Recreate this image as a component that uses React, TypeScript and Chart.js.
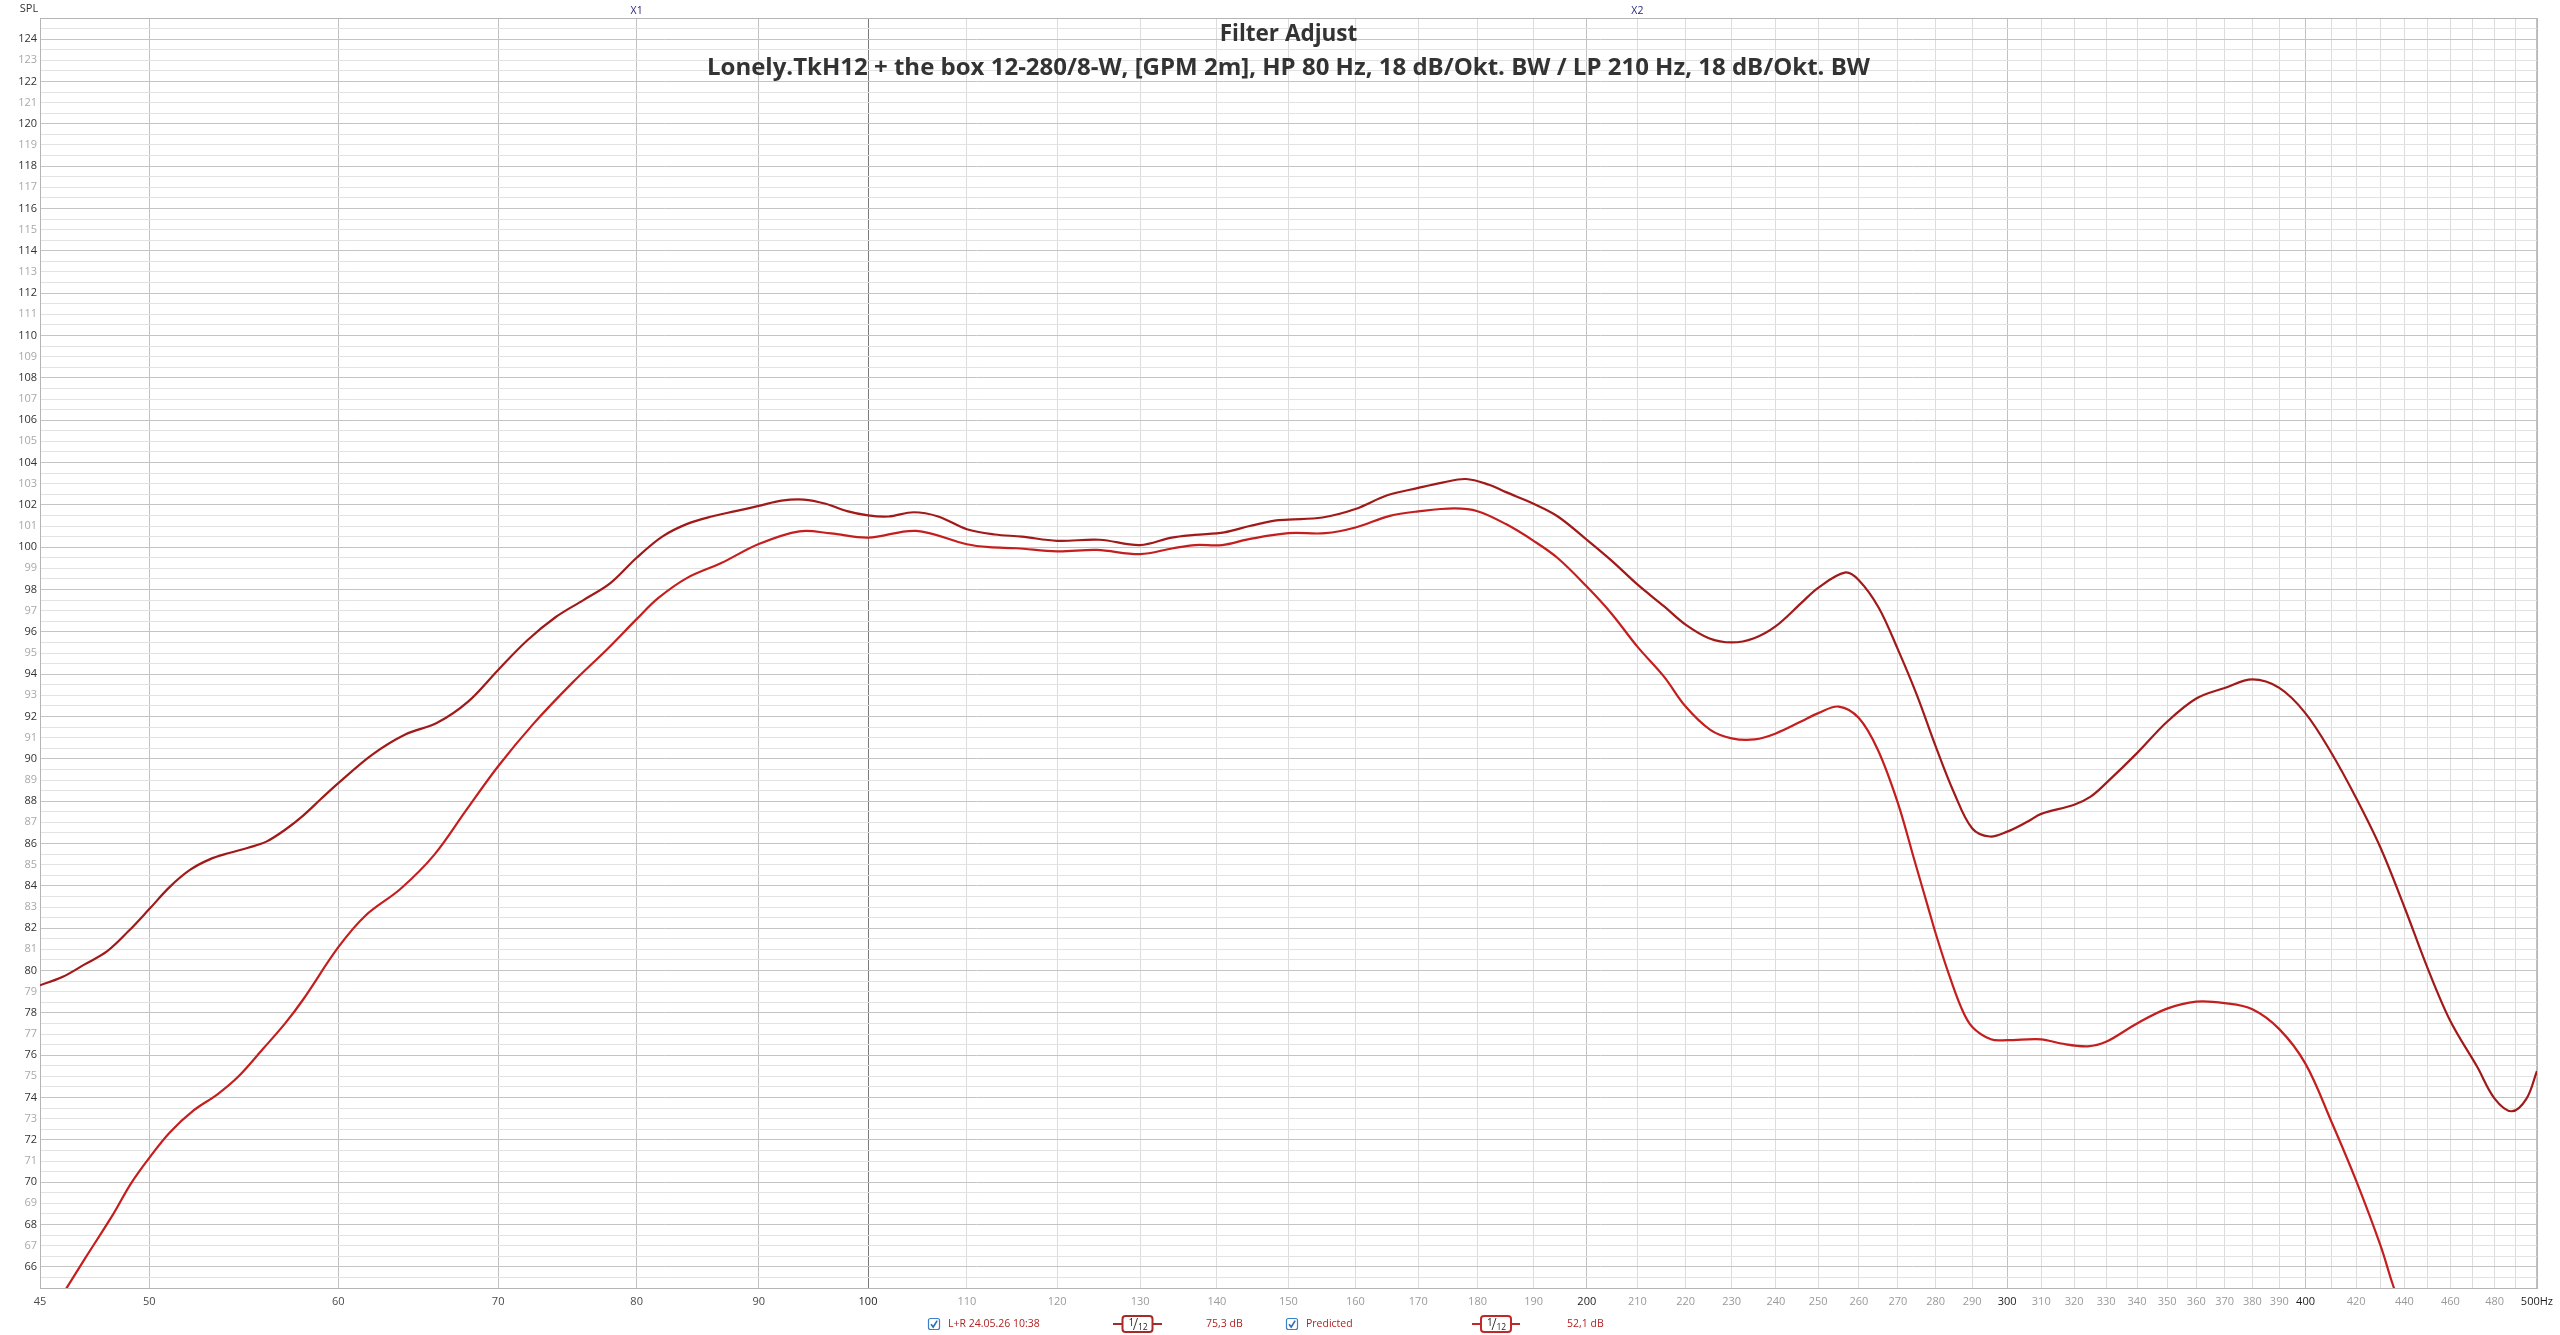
import React, { useEffect, useRef } from "react";
import { Chart, registerables } from "chart.js";

Chart.register(...registerables);

// ---------- data ----------
const FREQ_LR = [45, 46, 47, 48, 49, 50, 51, 52, 53, 54, 55, 56, 57, 58, 59, 60, 62, 64, 66, 68, 70, 72, 74, 76, 78, 80, 82, 84, 86, 88, 90, 92, 94, 96, 98, 100, 102, 104.5, 107, 110, 113, 116, 120, 125, 130, 134, 137, 141, 144.5, 148, 150, 155, 160, 165, 170, 174, 178, 182, 185, 190, 194.5, 200, 205, 210, 215.5, 220, 225, 230, 235, 240, 246, 250, 256.5, 260, 265, 270, 275, 280, 285, 290, 295, 300, 306, 310, 320, 325, 330, 340, 350, 360, 370, 380, 390, 400, 410, 420, 430, 440, 450, 460, 472, 480, 488, 495, 500];
const SPL_LR = [79.3, 79.7, 80.3, 80.9, 81.85, 82.9, 83.95, 84.75, 85.25, 85.55, 85.8, 86.1, 86.65, 87.32, 88.1, 88.85, 90.2, 91.15, 91.7, 92.7, 94.2, 95.6, 96.7, 97.5, 98.3, 99.5, 100.5, 101.1, 101.45, 101.7, 101.95, 102.2, 102.25, 102.05, 101.7, 101.5, 101.45, 101.65, 101.45, 100.85, 100.6, 100.5, 100.3, 100.35, 100.1, 100.45, 100.58, 100.7, 101.0, 101.25, 101.3, 101.4, 101.8, 102.45, 102.8, 103.05, 103.22, 102.95, 102.6, 102.05, 101.45, 100.35, 99.33, 98.24, 97.2, 96.34, 95.7, 95.5, 95.7, 96.27, 97.37, 98.08, 98.8, 98.44, 97.15, 95.16, 93.0, 90.59, 88.4, 86.72, 86.33, 86.56, 87.04, 87.4, 87.83, 88.2, 88.85, 90.27, 91.75, 92.85, 93.35, 93.75, 93.35, 92.15, 90.3, 88.15, 85.8, 83.0, 80.1, 77.6, 75.45, 73.95, 73.35, 73.95, 75.25];

const FREQ_PRED = [45, 46.2, 47, 48.3, 49.1, 50, 51, 52.2, 53.4, 54.5, 55.8, 57, 58, 60, 61.6, 63.7, 65.8, 67.9, 70, 72.4, 75.2, 77.8, 80, 81.7, 84, 86.8, 90, 93.6, 96.5, 100, 104.75, 110, 112.4, 115.4, 120, 124.7, 130, 134.2, 137.1, 140.7, 144.4, 150, 155.4, 160, 165.4, 170, 176, 180, 185, 190, 194.4, 200, 204.8, 210, 215.5, 220, 225.3, 230, 235.2, 240, 245.9, 250, 255, 260, 264.8, 270, 274.3, 277.9, 280, 283.2, 286.9, 290, 295.3, 300, 310, 316, 324.2, 330, 340, 350, 360, 370, 380, 390, 400, 410, 420, 430, 435, 440];
const SPL_PRED = [63.0, 65.05, 66.4, 68.5, 69.9, 71.15, 72.35, 73.4, 74.15, 75.0, 76.3, 77.5, 78.63, 81.1, 82.6, 83.85, 85.45, 87.6, 89.65, 91.64, 93.6, 95.2, 96.6, 97.6, 98.55, 99.25, 100.15, 100.75, 100.65, 100.45, 100.77, 100.14, 100.0, 99.95, 99.8, 99.87, 99.67, 99.95, 100.1, 100.1, 100.38, 100.66, 100.66, 100.93, 101.48, 101.69, 101.83, 101.7, 101.09, 100.3, 99.5, 98.14, 96.87, 95.3, 93.87, 92.47, 91.37, 90.97, 90.92, 91.2, 91.76, 92.16, 92.47, 91.93, 90.43, 87.9, 85.22, 83.02, 81.75, 80.02, 78.28, 77.34, 76.75, 76.71, 76.75, 76.55, 76.42, 76.63, 77.5, 78.2, 78.53, 78.46, 78.17, 77.23, 75.59, 72.89, 70.07, 67.0, 65.2, 63.6];

const X_TICK_VALUES = [45, 50, 60, 70, 80, 90, 100, 110, 120, 130, 140, 150, 160, 170, 180, 190, 200, 210, 220, 230, 240, 250, 260, 270, 280, 290, 300, 310, 320, 330, 340, 350, 360, 370, 380, 390, 400, 410, 420, 430, 440, 450, 460, 470, 480, 490, 500];
const X_TICK_LABELS = ["45", "50", "60", "70", "80", "90", "100", "110", "120", "130", "140", "150", "160", "170", "180", "190", "200", "210", "220", "230", "240", "250", "260", "270", "280", "290", "300", "310", "320", "330", "340", "350", "360", "370", "380", "390", "400", "", "420", "", "440", "", "460", "", "480", "", "500Hz"];
const X_STRONG = [100, 200, 300, 400, 500];
const X_MEDIUM = [45, 50, 60, 70, 80, 90];

const Y_MIN = 65;
const Y_MAX = 125;
const Y_STEP = 0.5;

const TITLE = "Filter Adjust";
const SUBTITLE = "Lonely.TkH12 + the box 12-280/8-W, [GPM 2m], HP 80 Hz, 18 dB/Okt. BW / LP 210 Hz, 18 dB/Okt. BW";
const CURSORS = [
  { label: "X1", freq: 80 },
  { label: "X2", freq: 210 },
];
const LEGEND_NAMES = ["L+R 24.05.26 10:38", "Predicted"];
const LEGEND_LEVELS = ["75,3 dB", "52,1 dB"];
const LINE_COLORS = ["#a11a1a", "#c41e1e"];

const UI_FONT = '"Open Sans", "Noto Sans", sans-serif';

function toPoints(xs: number[], ys: number[]) {
  return xs.map((x, i) => ({ x, y: ys[i] }));
}

function drawCheckbox(ctx: CanvasRenderingContext2D, cx: number, cy: number) {
  ctx.save();
  ctx.fillStyle = "#ffffff";
  ctx.strokeStyle = "#3a7fc8";
  ctx.lineWidth = 1.2;
  ctx.beginPath();
  (ctx as any).roundRect(cx - 5.5, cy - 5.5, 11, 11, 2);
  ctx.fill();
  ctx.stroke();
  ctx.strokeStyle = "#2b6fb8";
  ctx.lineWidth = 1.6;
  ctx.beginPath();
  ctx.moveTo(cx - 3, cy + 0.2);
  ctx.lineTo(cx - 0.8, cy + 3);
  ctx.lineTo(cx + 3.2, cy - 3.4);
  ctx.stroke();
  ctx.restore();
}

function drawSmoothIcon(ctx: CanvasRenderingContext2D, x1: number, x2: number, cy: number, color: string) {
  const cx = (x1 + x2) / 2;
  ctx.save();
  ctx.strokeStyle = color;
  ctx.lineWidth = 2;
  ctx.beginPath();
  ctx.moveTo(x1, cy);
  ctx.lineTo(x2, cy);
  ctx.stroke();
  ctx.fillStyle = "#ffffff";
  ctx.beginPath();
  (ctx as any).roundRect(cx - 15, cy - 8, 30, 16, 3);
  ctx.fill();
  ctx.stroke();
  ctx.fillStyle = "#222222";
  ctx.textBaseline = "alphabetic";
  ctx.textAlign = "left";
  ctx.font = `10px ${UI_FONT}`;
  ctx.fillText("1", cx - 9, cy + 2);
  ctx.strokeStyle = "#222222";
  ctx.lineWidth = 0.9;
  ctx.beginPath();
  ctx.moveTo(cx - 4, cy + 6);
  ctx.lineTo(cx, cy - 6);
  ctx.stroke();
  ctx.font = `8.5px ${UI_FONT}`;
  ctx.fillText("12", cx + 0.5, cy + 6);
  ctx.restore();
}

const overlayPlugin = {
  id: "rewOverlay",
  beforeDatasetsDraw(chart: any) {
    const { ctx, chartArea } = chart;
    ctx.save();
    ctx.strokeStyle = "#b5b5b5";
    ctx.lineWidth = 1;
    ctx.strokeRect(chartArea.left + 0.5, chartArea.top + 0.5, chartArea.right - chartArea.left, chartArea.bottom - chartArea.top);
    ctx.restore();
  },
  afterDraw(chart: any) {
    const { ctx, chartArea } = chart;
    const xs = chart.scales.x;
    const cx = (chartArea.left + chartArea.right) / 2;
    ctx.save();
    // titles
    ctx.fillStyle = "#333333";
    ctx.textAlign = "center";
    ctx.textBaseline = "middle";
    ctx.font = `bold 22.5px ${UI_FONT}`;
    ctx.fillText(TITLE, cx, 35);
    ctx.font = `bold 24px ${UI_FONT}`;
    ctx.fillText(SUBTITLE, cx, 68);
    // axis name
    ctx.font = `11px ${UI_FONT}`;
    ctx.fillStyle = "#333333";
    ctx.fillText("SPL", 29, 9);
    // cursors
    ctx.fillStyle = "#26267a";
    ctx.font = `10.5px ${UI_FONT}`;
    CURSORS.forEach((c) => {
      ctx.fillText(c.label, xs.getPixelForValue(c.freq), 11);
    });
    // legend row
    const ly = 1324;
    const red = "#b22222";
    drawCheckbox(ctx, 934, ly);
    drawCheckbox(ctx, 1292, ly);
    ctx.textAlign = "left";
    ctx.fillStyle = red;
    ctx.font = `10.5px ${UI_FONT}`;
    ctx.fillText(LEGEND_NAMES[0], 948, ly);
    ctx.fillText(LEGEND_LEVELS[0], 1206, ly);
    ctx.fillText(LEGEND_NAMES[1], 1306, ly);
    ctx.fillText(LEGEND_LEVELS[1], 1567, ly);
    drawSmoothIcon(ctx, 1113, 1162, ly, "#a52a2a");
    drawSmoothIcon(ctx, 1472, 1520, ly, "#c0282a");
    ctx.restore();
  },
};

export default function App() {
  const canvasRef = useRef<HTMLCanvasElement | null>(null);

  useEffect(() => {
    const canvas = canvasRef.current;
    if (!canvas) return;
    const yTicks: number[] = [];
    for (let v = Y_MIN; v <= Y_MAX + 1e-9; v += Y_STEP) yTicks.push(Math.round(v * 10) / 10);

    const chart = new Chart(canvas, {
      type: "line",
      data: {
        datasets: [
          {
            label: LEGEND_NAMES[0],
            data: toPoints(FREQ_LR, SPL_LR),
            borderColor: LINE_COLORS[0],
            borderWidth: 2.2,
            pointRadius: 0,
            tension: 0.35,
            fill: false,
            clip: 0,
          },
          {
            label: LEGEND_NAMES[1],
            data: toPoints(FREQ_PRED, SPL_PRED),
            borderColor: LINE_COLORS[1],
            borderWidth: 2.2,
            pointRadius: 0,
            tension: 0.35,
            fill: false,
            clip: 0,
          },
        ],
      },
      options: {
        animation: false,
        responsive: false,
        devicePixelRatio: 1,
        layout: { padding: { top: 18, right: 19, left: 0, bottom: 0 } },
        plugins: {
          legend: { display: false },
          title: { display: false },
          tooltip: { enabled: false },
        },
        scales: {
          x: {
            type: "logarithmic",
            min: 45,
            max: 500,
            border: { display: false },
            afterFit: (scale: any) => {
              scale.height = 47;
            },
            afterBuildTicks: (scale: any) => {
              scale.ticks = X_TICK_VALUES.map((v) => ({ value: v }));
            },
            grid: {
              drawTicks: false,
              lineWidth: 1,
              color: (c: any) => {
                const v = c.tick ? c.tick.value : 0;
                if (v === 100) return "#7a7a7a";
                if (X_STRONG.includes(v) || X_MEDIUM.includes(v)) return "#c2c2c2";
                return "#dcdcdc";
              },
            },
            ticks: {
              autoSkip: false,
              maxRotation: 0,
              minRotation: 0,
              padding: 7,
              font: { family: UI_FONT, size: 11 },
              color: (c: any) => {
                const v = c.tick ? c.tick.value : 0;
                if (X_STRONG.includes(v)) return "#1e1e1e";
                if (X_MEDIUM.includes(v)) return "#4a4a4a";
                return "#9a9a9a";
              },
              callback: (value: any) => {
                const i = X_TICK_VALUES.indexOf(Number(value));
                return i >= 0 ? X_TICK_LABELS[i] : "";
              },
            },
          },
          y: {
            type: "linear",
            min: Y_MIN,
            max: Y_MAX,
            border: { display: false },
            afterFit: (scale: any) => {
              scale.width = 40;
            },
            afterBuildTicks: (scale: any) => {
              scale.ticks = yTicks.map((v) => ({ value: v }));
            },
            grid: {
              drawTicks: false,
              lineWidth: 1,
              color: (c: any) => {
                const v = c.tick ? c.tick.value : 0;
                if (Number.isInteger(v) && v % 2 === 0) return "#c4c4c4";
                return "#e2e2e2";
              },
            },
            ticks: {
              autoSkip: false,
              padding: 3,
              font: { family: UI_FONT, size: 11 },
              color: (c: any) => {
                const v = c.tick ? c.tick.value : 0;
                return v % 2 === 0 ? "#333333" : "#a8a8a8";
              },
              callback: (value: any) => {
                const v = Number(value);
                if (Number.isInteger(v) && v > Y_MIN && v < Y_MAX) return String(v);
                return "";
              },
            },
          },
        },
      },
      plugins: [overlayPlugin],
    } as any);

    return () => {
      chart.destroy();
    };
  }, []);

  return (
    <div style={{ position: "fixed", left: 0, top: 0, width: 2560, height: 1335, background: "#ffffff" }}>
      <canvas ref={canvasRef} width={2560} height={1335} style={{ width: 2560, height: 1335, display: "block" }} />
    </div>
  );
}
